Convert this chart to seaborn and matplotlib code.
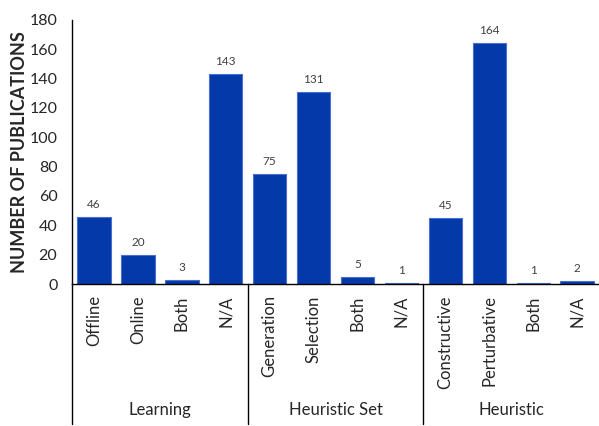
import numpy as np
import pandas as pd
import matplotlib
matplotlib.use('Agg')
import matplotlib.pyplot as plt
import matplotlib.transforms as mtransforms
import seaborn as sns

# data
groups = ['Learning', 'Heuristic Set', 'Heuristic']
learning_cats = ['Offline', 'Online', 'Both', 'N/A']
learning_vals = [46, 20, 3, 143]
hset_cats = ['Generation', 'Selection', 'Both', 'N/A']
hset_vals = [75, 131, 5, 1]
heur_cats = ['Constructive', 'Perturbative', 'Both', 'N/A']
heur_vals = [45, 164, 1, 2]

cats = learning_cats + hset_cats + heur_cats
vals = learning_vals + hset_vals + heur_vals
df = pd.DataFrame({'pos': np.arange(len(cats)), 'label': cats, 'count': vals})

sns.set_style('white')
plt.rcParams['font.family'] = ['Lato', 'DejaVu Sans']

fig = plt.figure(figsize=(5.99, 4.26), dpi=100)
ax = fig.add_axes([0.1202, 0.3333, 0.88, 0.62])

sns.barplot(data=df, x='pos', y='count', color='#0339A9', saturation=1,
            width=0.76, edgecolor='#4A6FD0', linewidth=0.8, ax=ax)
ax.bar_label(ax.containers[0], padding=5, fontsize=8.5, color='#404040')

ax.set_xlim(-0.5, len(cats) - 0.5)
ax.set_ylim(0, 180)
ax.set_yticks(range(0, 181, 20))
ax.tick_params(axis='y', labelsize=11.5, length=0, pad=10.5)
ax.tick_params(axis='x', labelsize=12, length=0, pad=8)
ax.set_xticks(df['pos'])
ax.set_xticklabels(cats, rotation=90, va='top')
ax.set_xlabel('')
ax.set_ylabel('NUMBER OF PUBLICATIONS', fontsize=13, fontweight='bold')
ax.yaxis.set_label_coords(-0.083, 0.5)

for s in ['top', 'right']:
    ax.spines[s].set_visible(False)
for s in ['left', 'bottom']:
    ax.spines[s].set_color('black')
    ax.spines[s].set_linewidth(1)

# group separators and group labels below the axis
trans = mtransforms.blended_transform_factory(ax.transData, ax.transAxes)
for xs in [-0.5, 3.5, 7.5]:
    ax.plot([xs, xs], [0, -0.53], color='black', lw=1, transform=trans, clip_on=False)
for i, g in enumerate(groups):
    ax.text(i * 4 + 1.5, -0.478, g, ha='center', va='center', fontsize=12,
            transform=trans)

fig.savefig('out.png', dpi=100)
